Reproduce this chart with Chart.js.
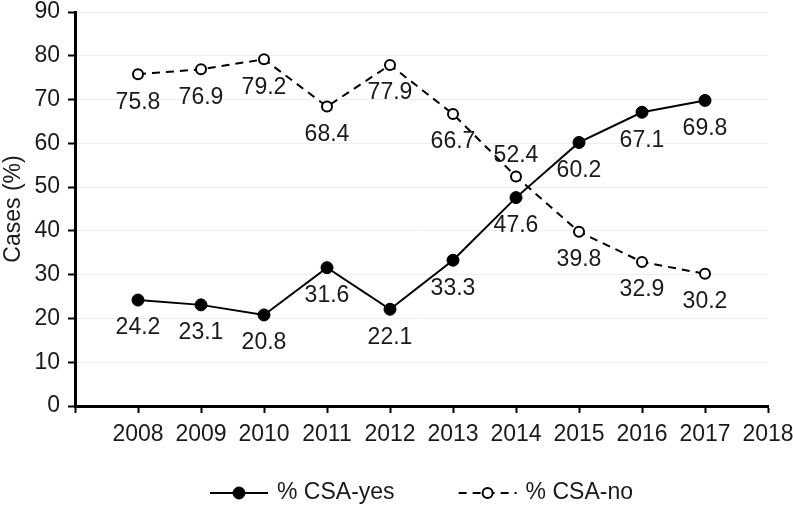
<!DOCTYPE html>
<html>
<head>
<meta charset="utf-8">
<script src="https://cdn.jsdelivr.net/npm/chart.js@4/dist/chart.umd.min.js"></script>
<style>
html,body{margin:0;padding:0;background:#fff;}
#wrap{width:793px;height:505px;position:relative;}
</style>
</head>
<body>
<div id="wrap"><canvas id="c" width="793" height="505"></canvas></div>
<script>
const years = [2008, 2009, 2010, 2011, 2012, 2013, 2014, 2015, 2016, 2017];
const csaYes = [24.2, 23.1, 20.8, 31.6, 22.1, 33.3, 47.6, 60.2, 67.1, 69.8];
const csaNo = [75.8, 76.9, 79.2, 68.4, 77.9, 66.7, 52.4, 39.8, 32.9, 30.2];
const seriesNames = ['% CSA-yes', '% CSA-no'];
const yTitle = 'Cases (%)';

const FONT = "'Liberation Sans', Arial, sans-serif";
const FS = 23;

const dataLabels = {
  id: 'dataLabels',
  afterDatasetsDraw(chart) {
    const ctx = chart.ctx;
    ctx.save();
    ctx.font = FS + 'px ' + FONT;
    ctx.fillStyle = '#1a1a1a';
    ctx.textAlign = 'center';
    ctx.textBaseline = 'middle';
    chart.data.datasets.forEach((ds, di) => {
      const meta = chart.getDatasetMeta(di);
      meta.data.forEach((pt, i) => {
        const v = ds.data[i].y;
        const above = ds.labelAbove && ds.labelAbove.includes(i);
        const dy = above ? -21 : 28;
        ctx.fillText(v.toFixed(1), pt.x, pt.y + dy);
      });
    });
    ctx.restore();
  }
};

const customLegend = {
  id: 'customLegend',
  afterDraw(chart) {
    const ctx = chart.ctx;
    const ca = chart.chartArea;
    const y = 493;
    ctx.save();
    ctx.font = FS + 'px ' + FONT;
    ctx.textBaseline = 'middle';
    ctx.textAlign = 'left';
    const lineLen = 58, gapText = 9, gapItems = 64;
    const w0 = ctx.measureText(seriesNames[0]).width;
    const w1 = ctx.measureText(seriesNames[1]).width;
    const total = lineLen + gapText + w0 + gapItems + lineLen + gapText + w1;
    let x = (ca.left + ca.right) / 2 - total / 2;
    chart.data.datasets.forEach((ds, di) => {
      ctx.strokeStyle = '#000';
      ctx.lineWidth = 2;
      ctx.setLineDash(ds.borderDash || []);
      ctx.beginPath();
      ctx.moveTo(x, y);
      ctx.lineTo(x + lineLen, y);
      ctx.stroke();
      ctx.setLineDash([]);
      ctx.beginPath();
      ctx.arc(x + lineLen / 2, y, ds.pointRadius, 0, Math.PI * 2);
      ctx.fillStyle = ds.pointBackgroundColor;
      ctx.fill();
      ctx.lineWidth = ds.pointBorderWidth;
      ctx.stroke();
      ctx.fillStyle = '#1a1a1a';
      ctx.fillText(ds.label, x + lineLen + gapText, y);
      x += lineLen + gapText + (di === 0 ? w0 : w1) + gapItems;
    });
    ctx.restore();
  }
};

new Chart(document.getElementById('c'), {
  type: 'line',
  data: {
    datasets: [
      {
        label: seriesNames[0],
        data: years.map((yr, i) => ({x: yr, y: csaYes[i]})),
        borderColor: '#000',
        borderWidth: 2,
        pointRadius: 6,
        pointBackgroundColor: '#000',
        pointBorderColor: '#000',
        pointBorderWidth: 1,
        tension: 0,
        clip: false
      },
      {
        label: seriesNames[1],
        data: years.map((yr, i) => ({x: yr, y: csaNo[i]})),
        borderColor: '#000',
        borderWidth: 2,
        borderDash: [8, 6],
        pointRadius: 5,
        pointBackgroundColor: '#fff',
        pointBorderColor: '#000',
        pointBorderWidth: 2,
        tension: 0,
        clip: false,
        labelAbove: [6]
      }
    ]
  },
  options: {
    responsive: false,
    animation: false,
    layout: {padding: {left: 0, right: 25, top: 12, bottom: 49}},
    plugins: {legend: {display: false}, tooltip: {enabled: false}},
    scales: {
      x: {
        type: 'linear',
        min: 2007,
        max: 2018,
        afterFit(s) { s.height = 50; s.paddingRight = 0; s.paddingLeft = 0; },
        ticks: {
          stepSize: 1,
          autoSkip: false,
          maxRotation: 0,
          padding: 8,
          color: '#1a1a1a',
          font: {family: FONT, size: FS},
          callback: v => (v === 2007 ? '' : String(v))
        },
        grid: {drawOnChartArea: false, drawTicks: true, tickLength: 7, tickColor: '#000', tickWidth: 2},
        border: {color: '#000', width: 3}
      },
      y: {
        min: 0,
        max: 90,
        afterFit(s) { s.width = 75; s.paddingTop = 0; s.paddingBottom = 0; },
        ticks: {
          stepSize: 10,
          padding: 8,
          color: '#1a1a1a',
          font: {family: FONT, size: FS}
        },
        title: {
          display: true,
          text: yTitle,
          color: '#1a1a1a',
          padding: 0,
          font: {family: FONT, size: FS}
        },
        grid: {color: '#eeeeee', lineWidth: 1, tickLength: 7, tickColor: '#000', tickWidth: 2},
        border: {color: '#000', width: 3}
      }
    }
  },
  plugins: [dataLabels, customLegend]
});
</script>
</body>
</html>
